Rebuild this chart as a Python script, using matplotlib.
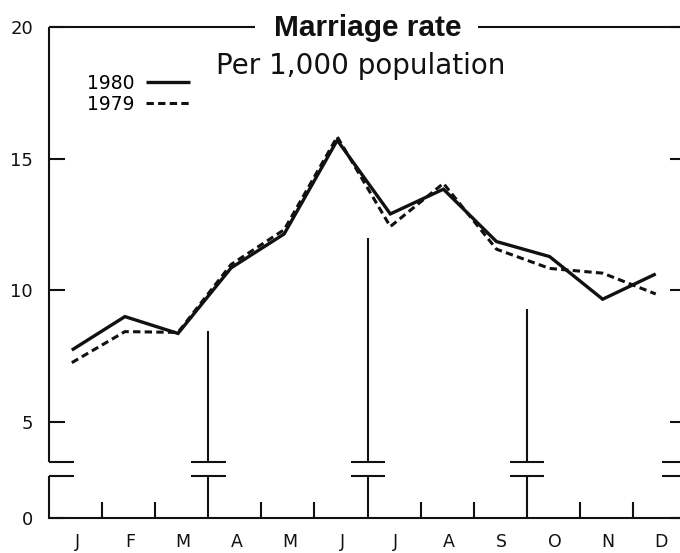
import matplotlib
matplotlib.use('Agg')
import matplotlib.pyplot as plt
import numpy as np

# ---- data -------------------------------------------------------------
months = ['J', 'F', 'M', 'A', 'M', 'J', 'J', 'A', 'S', 'O', 'N', 'D']
rate_1980 = [7.73, 9.00, 8.36, 10.85, 12.14, 15.70, 12.90, 13.84, 11.85, 11.28, 9.66, 10.62]
rate_1979 = [7.25, 8.43, 8.40, 10.98, 12.30, 15.83, 12.42, 14.06, 11.56, 10.83, 10.65, 9.86]
quarter_boundaries = [3, 6, 9]
quarter_divider_heights = [8.45, 11.97, 9.28]
ytick_values = [5, 10, 15, 20]
ytick_labels = ['0', '5', '10', '15', '20']
series_labels = ['1980', '1979']
title = 'Marriage rate'
subtitle = 'Per 1,000 population'

# ---- layout -----------------------------------------------------------
W, H = 680, 553
fig = plt.figure(figsize=(W / 100, H / 100), dpi=100)
ax = fig.add_axes([49 / W, 35 / H, 637 / W, 491 / H])

y_floor = 1.35          # broken-axis position of "0"
brk_lo, brk_hi = 2.95, 3.46
ax.set_xlim(0, 12)
ax.set_ylim(y_floor, 20)

black = '#111111'
lw_axis = 1.5

x = np.arange(len(months)) + 0.43
ax.plot(x, rate_1980, color=black, lw=2.4, solid_capstyle='butt',
        solid_joinstyle='miter', label=series_labels[0])
ax.plot(x, rate_1979, color=black, lw=2.2, dashes=(2.4, 1.4),
        dash_capstyle='butt', label=series_labels[1])

# spines
for s in ['left', 'right', 'top']:
    ax.spines[s].set_visible(False)
ax.spines['bottom'].set_linewidth(lw_axis)
ax.spines['bottom'].set_color(black)

# left/right axis lines with breaks
for xe in [0, 12]:
    ax.vlines(xe, y_floor, brk_lo, color=black, lw=lw_axis, clip_on=False)
    ax.vlines(xe, brk_hi, 20, color=black, lw=lw_axis, clip_on=False)
ax.hlines([brk_lo, brk_hi], 0, 0.47, color=black, lw=lw_axis, clip_on=False)
ax.hlines([brk_lo, brk_hi], 11.55, 12, color=black, lw=lw_axis, clip_on=False)

# quarter dividers with breaks
for qb, qh in zip(quarter_boundaries, quarter_divider_heights):
    ax.vlines(qb, y_floor, brk_lo, color=black, lw=lw_axis)
    ax.vlines(qb, brk_hi, qh, color=black, lw=lw_axis)
    ax.hlines([brk_lo, brk_hi], qb - 0.32, qb + 0.33, color=black, lw=lw_axis)

# top line interrupted by title
ax.hlines(20, 0, 3.88, color=black, lw=lw_axis, clip_on=False)
ax.hlines(20, 8.08, 12, color=black, lw=lw_axis, clip_on=False)
ax.text(6.0, 19.66, title, ha='center', va='baseline', fontsize=21.5,
        fontweight='bold', family='Liberation Sans', color=black)
ax.text(5.87, 18.22, subtitle, ha='center', va='baseline', fontsize=20,
        family='DejaVu Sans', color=black)

# y ticks
ax.set_yticks([y_floor] + ytick_values)
ax.set_yticklabels(ytick_labels)
ax.tick_params(axis='y', direction='in', length=11.5, width=lw_axis,
               right=True, left=True, pad=11.5, labelsize=13, colors=black)

# x ticks: boundaries (no labels), month centres (labels)
bticks = [b for b in range(1, 12) if b not in quarter_boundaries]
ax.set_xticks(bticks)
ax.set_xticklabels([])
ax.tick_params(axis='x', which='major', direction='in', length=11.5,
               width=lw_axis, colors=black)
ax.set_xticks(np.arange(len(months)) + 0.53, minor=True)
ax.set_xticklabels(months, minor=True)
ax.tick_params(axis='x', which='minor', length=0, pad=11, labelsize=12.5,
               colors=black)

for t in ax.get_xticklabels(minor=True) + ax.get_yticklabels():
    t.set_family('DejaVu Sans')

# legend
leg = ax.legend(loc='upper left', bbox_to_anchor=(0.06, 0.905),
                frameon=False, markerfirst=False, fontsize=13.5,
                handlelength=2.35, handletextpad=0.6, labelspacing=0.1,
                borderpad=0, borderaxespad=0)

fig.savefig('out.png', dpi=100)
